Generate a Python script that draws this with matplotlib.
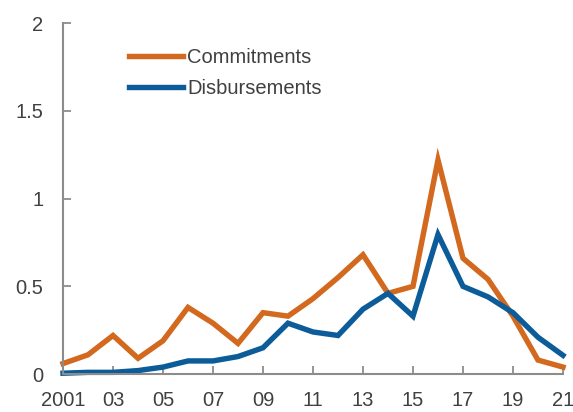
import matplotlib.pyplot as plt

# Values
years = list(range(2001, 2022))
commitments = [0.06, 0.11, 0.22, 0.09, 0.19, 0.38, 0.29, 0.175, 0.35, 0.33, 0.43,
               0.55, 0.68, 0.46, 0.50, 1.22, 0.66, 0.54, 0.33, 0.08, 0.04]
disbursements = [0.005, 0.01, 0.01, 0.02, 0.04, 0.075, 0.075, 0.10, 0.15, 0.29, 0.24,
                 0.22, 0.37, 0.46, 0.33, 0.795, 0.50, 0.44, 0.35, 0.21, 0.107]
tick_years = list(range(2001, 2022, 2))
tick_labels = ['2001'] + [str(y)[2:] for y in tick_years[1:]]

plt.rcParams['font.family'] = ['Liberation Sans', 'DejaVu Sans']
text_col = '#404040'
axis_col = '#8c8c8c'

fig = plt.figure(figsize=(5.73, 4.12), dpi=100)
ax = fig.add_axes([0.110, 0.092, 0.8725, 0.852])

ax.plot(years, commitments, color='#D2691E', linewidth=3.9, label='Commitments',
        solid_joinstyle='miter', clip_on=False)
ax.plot(years, disbursements, color='#0B5C99', linewidth=3.9, label='Disbursements',
        solid_joinstyle='miter', clip_on=False)

ax.set_xlim(2001, 2021)
ax.set_ylim(0, 2)
ax.set_xticks(tick_years)
ax.set_xticklabels(tick_labels)
ax.set_yticks([0, 0.5, 1, 1.5, 2])
ax.set_yticklabels(['0', '0.5', '1', '1.5', '2'])

for side in ['top', 'right']:
    ax.spines[side].set_visible(False)
for side in ['left', 'bottom']:
    ax.spines[side].set_color(axis_col)
    ax.spines[side].set_linewidth(1.5)

ax.tick_params(axis='both', direction='in', length=6, width=1.3, color=axis_col,
               labelsize=14.5, labelcolor=text_col)
ax.tick_params(axis='y', pad=14)
ax.tick_params(axis='x', pad=12)

leg = ax.legend(loc='upper left', bbox_to_anchor=(0.115, 0.952), frameon=False,
                fontsize=14.5, handlelength=2.7, handletextpad=0.2,
                labelspacing=0.62, borderaxespad=0)
for t in leg.get_texts():
    t.set_color(text_col)

fig.savefig('out.png', dpi=100)
